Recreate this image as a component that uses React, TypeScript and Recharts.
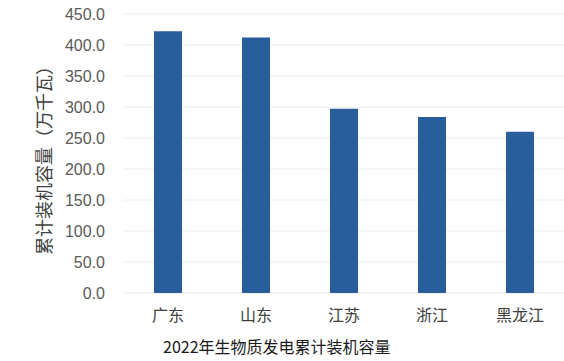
import { Bar, BarChart, CartesianGrid, XAxis, YAxis } from 'recharts';

const provinces = ['广东', '山东', '江苏', '浙江', '黑龙江'];
const capacity = [422, 412, 297, 284, 260];
const yTicks = [0, 50, 100, 150, 200, 250, 300, 350, 400, 450];

const title = '2022年生物质发电累计装机容量';
const yLabel = '累计装机容量（万千瓦）';

const data = provinces.map((name, i) => ({ name, value: capacity[i] }));

const font = '"Liberation Sans", "Noto Sans CJK SC", sans-serif';
const cjk = '"Noto Sans CJK SC", sans-serif';

const App = () => {
  return (
    <div style={{ position: 'relative', width: 564, height: 361, background: '#fff' }}>
      <style>{'body{margin:0}'}</style>
      <BarChart
        width={564}
        height={361}
        data={data}
        margin={{ top: 14, right: 0, bottom: 0, left: 0 }}
        style={{ fontFamily: font }}
      >
        <CartesianGrid vertical={false} stroke="#ececec" />
        <XAxis
          dataKey="name"
          tickLine={false}
          axisLine={false}
          tickSize={0}
          tickMargin={17}
          height={68}
          tick={{ fill: '#404040', fontSize: 16, fontFamily: cjk }}
        />
        <YAxis
          domain={[0, 450]}
          ticks={yTicks}
          interval={0}
          tickFormatter={(v: number) => v.toFixed(1)}
          tickLine={false}
          axisLine={false}
          tickSize={0}
          tickMargin={19}
          width={124}
          tick={{ fill: '#595959', fontSize: 16 }}
        />
        <Bar dataKey="value" fill="#295d9c" barSize={28} isAnimationActive={false} />
      </BarChart>
      <svg
        width={564}
        height={361}
        style={{ position: 'absolute', left: 0, top: 0, pointerEvents: 'none' }}
      >
        <text
          x={43}
          y={156}
          transform="rotate(-90 43 156)"
          textAnchor="middle"
          dominantBaseline="central"
          fontSize={18}
          fill="#404040"
          fontFamily={cjk}
        >
          {yLabel}
        </text>
        <text x={163} y={353} fontSize={16} fill="#1a1a1a" fontFamily={cjk}>
          {title}
        </text>
      </svg>
    </div>
  );
};

export default App;
